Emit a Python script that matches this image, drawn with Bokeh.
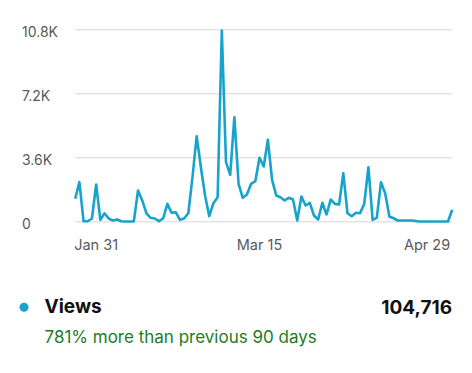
from bokeh.plotting import figure
from bokeh.models import ColumnDataSource, Range1d
from bokeh.embed import file_html
from bokeh.resources import INLINE

# ---- data ----
day_index = list(range(91))
views = [1294, 2228, 30, 30, 185, 2100, 110, 480, 185, 70,
         130, 30, 20, 20, 20, 1760, 1200, 480, 225, 185,
         35, 185, 1010, 506, 540, 110, 185, 480, 2510, 4815,
         3070, 1480, 315, 1046, 1384, 10760, 3354, 2644, 5884, 2137,
         1350, 1536, 2137, 2284, 3600, 3110, 4612, 2362, 1480, 1384,
         1200, 1350, 1254, 73, 1423, 917, 1069, 354, 130, 1069,
         410, 1254, 1010, 973, 2734, 484, 315, 506, 484, 1010,
         3070, 110, 225, 2228, 1600, 300, 200, 73, 70, 70,
         70, 60, 15, 15, 15, 15, 15, 15, 15, 15, 675]
y_ticks = [0, 3600, 7200, 10800]
y_tick_labels = ["0", "3.6K", "7.2K", "10.8K"]
x_ticks = [5, 44, 84]
x_tick_labels = ["Jan 31", "Mar 15", "Apr 29"]
series_name = "Views"
total_text = "104,716"
change_text = "781% more than previous 90 days"

LINE = "#17a3cc"
FONT = "Inter"
GRAY = "#5a5a5a"

# ---- layout (pixels on the canvas) ----
W, H = 464, 365
PX_LEFT, PX_RIGHT = 74.7, 451.7      # x of first / last day
PX_ZERO, PX_TOP = 221.3, 29.3        # y of 0 and of top tick
x_lo, x_hi = day_index[0], day_index[-1]
y_lo, y_hi = y_ticks[0], y_ticks[-1]
sx = (x_hi - x_lo) / (PX_RIGHT - PX_LEFT)
sy = (y_hi - y_lo) / (PX_ZERO - PX_TOP)


def px_x(px):
    return x_lo + (px - PX_LEFT) * sx


def px_y(py):
    return y_lo + (PX_ZERO - py) * sy


p = figure(width=W, height=H, output_backend="svg", toolbar_location=None,
           x_range=Range1d(px_x(0), px_x(W)), y_range=Range1d(px_y(H), px_y(0)),
           min_border=0)
p.outline_line_color = None
p.axis.visible = False
p.grid.visible = False
p.background_fill_color = "white"
p.border_fill_color = "white"

# horizontal grid lines at the y ticks
p.segment(x0=[x_lo] * len(y_ticks), x1=[x_hi] * len(y_ticks), y0=y_ticks, y1=y_ticks,
          line_color="#e4e4e4", line_width=1.5)

# the series
src = ColumnDataSource(dict(x=day_index, y=views))
p.line("x", "y", source=src, line_color=LINE, line_width=2.6, line_join="round")

# y tick labels (left aligned)
p.text(x=[px_x(21.5)] * len(y_ticks), y=y_ticks, text=y_tick_labels,
       text_align="left", text_baseline="alphabetic", y_offset=2,
       text_font={"value": FONT}, text_font_size="14px", text_color=GRAY)

# x tick labels
p.text(x=x_ticks, y=[px_y(244)] * len(x_ticks), text=x_tick_labels,
       text_align="center", text_baseline="alphabetic",
       text_font={"value": FONT}, text_font_size="14.5px", text_color=GRAY)

# summary rows
p.scatter(x=[px_x(23.5)], y=[px_y(306.8)], size=9, marker="circle",
          fill_color=LINE, line_color=None)
p.text(x=[px_x(44)], y=[px_y(306)], text=[series_name],
       text_align="left", text_baseline="alphabetic",
       text_font={"value": FONT}, text_font_size="19px", text_font_style="bold",
       text_color="#111111")
p.text(x=[px_x(451.5)], y=[px_y(306)], text=[total_text],
       text_align="right", text_baseline="alphabetic",
       text_font={"value": FONT}, text_font_size="19px", text_font_style="bold",
       text_color="#111111")
p.text(x=[px_x(44)], y=[px_y(336.5)], text=[change_text],
       text_align="left", text_baseline="alphabetic",
       text_font={"value": FONT}, text_font_size="17px", text_color="#1b7d1f")

open("out.html", "w").write(file_html(p, INLINE))
